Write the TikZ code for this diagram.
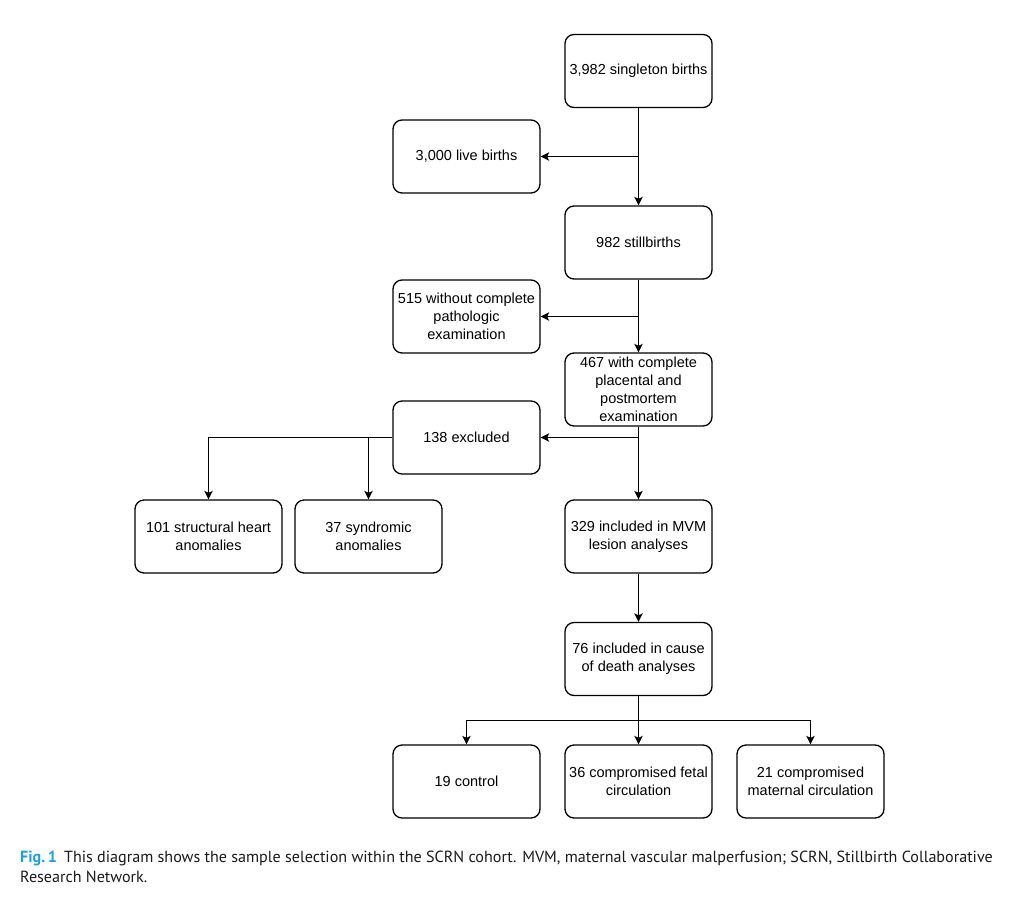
\documentclass[tikz,border=0pt]{standalone}
\usepackage{fontspec}
\setmainfont{Liberation Sans}
\newfontfamily\capfont{PT Sans}
\usetikzlibrary{arrows.meta,calc}
\definecolor{figblue}{HTML}{1BA1E2}
\definecolor{captext}{HTML}{1A1A1A}
\begin{document}
\begin{tikzpicture}[x=1pt,y=-1pt,
  box/.style={draw=black,line width=1.3pt,rounded corners=9pt,minimum width=147pt,minimum height=73pt,
    inner sep=1pt,align=center,font=\fontsize{14.5}{18}\selectfont},
  arr/.style={line width=1.4pt,-{Stealth[length=8.5pt,width=8.5pt,inset=2pt]}},
  ln/.style={line width=1.4pt}]
\useasboundingbox (0,0) rectangle (1017,907);
\node[box] (b1) at (638.5,71) {3,982 singleton births};
\node[box] (live) at (466.5,156.5) {3,000 live births};
\node[box] (still) at (638.5,242.5) {982 stillbirths};
\node[box] (without) at (466.5,316.5) {515 without complete\\pathologic\\examination};
\node[box] (with) at (638.5,389.5) {467 with complete\\placental and\\postmortem\\examination};
\node[box] (excl) at (466.5,437.5) {138 excluded};
\node[box] (heart) at (208.5,536.5) {101 structural heart\\anomalies};
\node[box] (synd) at (368.5,536.5) {37 syndromic\\anomalies};
\node[box] (incl) at (638.5,536.5) {329 included in MVM\\lesion analyses};
\node[box] (cause) at (638.5,659) {76 included in cause\\of death analyses};
\node[box] (ctrl) at (466.5,781.5) {19 control};
\node[box] (fetal) at (638.5,781.5) {36 compromised fetal\\circulation};
\node[box] (mat) at (810.5,781.5) {21 compromised\\maternal circulation};
% main chain
\draw[arr] (b1) -- (still);
\draw[arr] (b1.south |- live) -- (live);
\draw[arr] (still) -- (with);
\draw[arr] (still.south |- without) -- (without);
\draw[arr] (with) -- (incl);
\draw[arr] (with.south |- excl) -- (excl);
\draw[arr] (incl) -- (cause);
% excluded split
\draw[arr] (excl.west) -| (heart.north);
\draw[arr] (excl.west -| synd.north) -- (synd.north);
% bottom split
\coordinate (j) at (cause.south |- 0,720.5);
\draw[arr] (cause) -- (fetal);
\draw[arr] (j) -| (ctrl.north);
\draw[arr] (j) -| (mat.north);
% caption
\node[anchor=base west,inner sep=0pt,text=captext,font=\capfont\fontsize{16.1}{20}\selectfont] (cap1) at (20,862)
  {{\bfseries\color{figblue}Fig.\,1}\hspace{7pt}This diagram shows the sample selection within the SCRN cohort. MVM, maternal vascular malperfusion; SCRN, Stillbirth Collaborative};
\node[anchor=base west,inner sep=0pt,text=captext,font=\capfont\fontsize{16.1}{20}\selectfont] (cap2) at (20,882) {Research Network.};
\end{tikzpicture}
\end{document}
